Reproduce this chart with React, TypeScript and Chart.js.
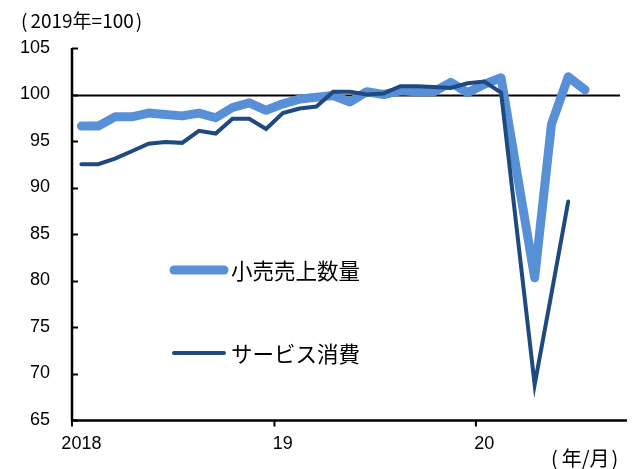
import React, { useEffect, useRef } from "react";
import { Chart, registerables } from "chart.js";

Chart.register(...registerables);

// Monthly categories, 2018-01 .. 2020-09
const months: string[] = [
  "2018-01", "2018-02", "2018-03", "2018-04", "2018-05", "2018-06",
  "2018-07", "2018-08", "2018-09", "2018-10", "2018-11", "2018-12",
  "2019-01", "2019-02", "2019-03", "2019-04", "2019-05", "2019-06",
  "2019-07", "2019-08", "2019-09", "2019-10", "2019-11", "2019-12",
  "2020-01", "2020-02", "2020-03", "2020-04", "2020-05", "2020-06",
  "2020-07", "2020-08", "2020-09",
];

// Year labels shown under each January
const yearLabels: Record<string, string> = { "2018": "2018", "2019": "19", "2020": "20" };

// 小売売上数量 (2019 = 100)
const retailVolume: number[] = [
  96.6, 96.6, 97.6, 97.6, 98.0, 97.85, 97.7, 98.0, 97.5, 98.6, 99.1, 98.3,
  99.0, 99.5, 99.7, 99.9, 99.2, 100.3, 100.0, 100.4, 100.3, 100.3, 101.3, 100.2,
  101.1, 101.8, 91.0, 80.3, 96.8, 101.9, 100.5,
];

// サービス消費 (2019 = 100)
const serviceConsumption: number[] = [
  92.5, 92.5, 93.1, 93.9, 94.7, 94.9, 94.8, 96.1, 95.8, 97.4, 97.4, 96.3,
  98.0, 98.5, 98.7, 100.3, 100.3, 100.0, 100.1, 100.9, 100.9, 100.8, 100.7, 101.2,
  101.4, 100.2, 84.5, 68.8, 78.6, 88.5,
];

const seriesNames = ["小売売上数量", "サービス消費"];
const unitCaption = "2019年=100";
const periodCaption = "年/月";
const yMin = 65;
const yMax = 105;
const yStep = 5;
const baseLine = 100;

const lightBlue = "#5890d8";
const navy = "#1f4a80";
const numFont = "'Liberation Sans', 'Noto Sans CJK JP', sans-serif";
const jpFont = "'Noto Sans CJK JP', sans-serif";

// Draws "(text)" with wide, full-width style bracket spacing
function drawBracketed(ctx: CanvasRenderingContext2D, text: string, x: number, y: number, gap: number) {
  ctx.textAlign = "left";
  ctx.fillText("(", x, y);
  const inner = x + ctx.measureText("(").width + gap;
  ctx.fillText(text, inner, y);
  const w = ctx.measureText(text).width;
  ctx.fillText(")", inner + w + 2, y);
}

const decorations = {
  id: "decorations",
  beforeDatasetsDraw(chart: any) {
    const { ctx, chartArea, scales } = chart;
    const y = Math.round(scales.y.getPixelForValue(baseLine)) + 0.5;
    ctx.save();
    ctx.strokeStyle = "#000";
    ctx.lineWidth = 2;
    ctx.beginPath();
    ctx.moveTo(chartArea.left, y);
    ctx.lineTo(chartArea.right - 7, y);
    ctx.stroke();
    ctx.restore();
  },
  afterDraw(chart: any) {
    const { ctx, chartArea, scales } = chart;
    const xs = scales.x;
    const ys = scales.y;
    const left = chartArea.left - 1;
    const bottom = chartArea.bottom + 0.5;
    ctx.save();
    ctx.strokeStyle = "#000";
    ctx.lineWidth = 2.5;
    // axes
    ctx.beginPath();
    ctx.moveTo(left, chartArea.top);
    ctx.lineTo(left, bottom);
    ctx.lineTo(chartArea.right, bottom);
    ctx.stroke();
    // inward y ticks
    ctx.lineWidth = 2;
    for (let v = yMin; v <= yMax; v += yStep) {
      const py = Math.round(ys.getPixelForValue(v)) + 0.5;
      ctx.beginPath();
      ctx.moveTo(left, py);
      ctx.lineTo(left + 6, py);
      ctx.stroke();
    }
    // downward x ticks at year boundaries
    months.forEach((m, i) => {
      if (!m.endsWith("-01")) return;
      const px =
        i === 0
          ? left
          : (xs.getPixelForValue(i - 1) + xs.getPixelForValue(i)) / 2;
      ctx.beginPath();
      ctx.moveTo(px, bottom);
      ctx.lineTo(px, bottom + 6);
      ctx.stroke();
    });

    // unit captions
    ctx.fillStyle = "#000";
    ctx.textBaseline = "middle";
    ctx.font = `19px ${jpFont}`;
    drawBracketed(ctx, unitCaption, 21, 21, 3);
    ctx.font = `20px ${jpFont}`;
    drawBracketed(ctx, periodCaption, 551, 458, 4);

    // legend
    const items = [
      { name: seriesNames[0], color: lightBlue, width: 9, y: 270 },
      { name: seriesNames[1], color: navy, width: 4, y: 353 },
    ];
    ctx.textAlign = "left";
    ctx.font = `21.5px ${jpFont}`;
    items.forEach((it) => {
      ctx.strokeStyle = it.color;
      ctx.lineWidth = it.width;
      ctx.lineCap = "round";
      ctx.beginPath();
      ctx.moveTo(174, it.y);
      ctx.lineTo(224, it.y);
      ctx.stroke();
      ctx.fillStyle = "#000";
      ctx.fillText(it.name, 231, it.y + 1);
    });
    ctx.restore();
  },
};

export default function App() {
  const canvasRef = useRef<HTMLCanvasElement | null>(null);

  useEffect(() => {
    if (!canvasRef.current) return;
    const chart = new Chart(canvasRef.current, {
      type: "line",
      data: {
        labels: months,
        datasets: [
          {
            label: seriesNames[0],
            data: retailVolume,
            borderColor: lightBlue,
            backgroundColor: lightBlue,
            borderWidth: 9,
            borderCapStyle: "round",
            borderJoinStyle: "round",
            pointRadius: 0,
            tension: 0,
            order: 1,
          },
          {
            label: seriesNames[1],
            data: serviceConsumption,
            borderColor: navy,
            backgroundColor: navy,
            borderWidth: 4,
            borderCapStyle: "round",
            borderJoinStyle: "miter",
            pointRadius: 0,
            tension: 0,
            order: 0,
          },
        ],
      },
      options: {
        responsive: false,
        animation: false,
        devicePixelRatio: 1,
        layout: { padding: { top: 48, right: 14, bottom: 0, left: 0 } },
        plugins: {
          legend: { display: false },
          tooltip: { enabled: false },
        },
        scales: {
          x: {
            type: "category",
            offset: true,
            grid: { display: false, offset: true },
            border: { display: false },
            afterFit(scale: any) {
              scale.height = 49;
            },
            ticks: {
              autoSkip: false,
              maxRotation: 0,
              minRotation: 0,
              padding: 5,
              color: "#000",
              font: { family: numFont, size: 18 },
              callback(_v: any, i: number) {
                const m = months[i];
                return m.endsWith("-01") ? yearLabels[m.slice(0, 4)] : "";
              },
            },
          },
          y: {
            min: yMin,
            max: yMax,
            grid: { display: false },
            border: { display: false },
            afterFit(scale: any) {
              scale.width = 73;
            },
            ticks: {
              stepSize: yStep,
              padding: 15,
              color: "#000",
              font: { family: numFont, size: 18 },
            },
          },
        },
      },
      plugins: [decorations],
    });
    return () => chart.destroy();
  }, []);

  return (
    <div style={{ position: "absolute", left: 0, top: 0, width: 641, height: 469, background: "#fff" }}>
      <canvas ref={canvasRef} width={641} height={469} />
    </div>
  );
}
